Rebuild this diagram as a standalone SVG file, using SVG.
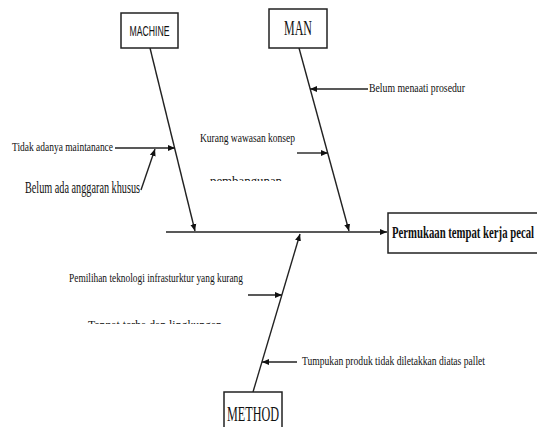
<svg xmlns="http://www.w3.org/2000/svg" width="537" height="427" viewBox="0 0 537 427">
<style>
.box{fill:#fff;stroke:#222;stroke-width:1.5}
.ln{stroke:#222;stroke-width:1.4;fill:none}
.t{font-family:"Liberation Serif",serif;fill:#111}
</style>
<defs>
<marker id="ah" markerWidth="8" markerHeight="8" refX="7" refY="4" orient="auto" markerUnits="userSpaceOnUse">
<path d="M0,1 L7,4 L0,7 Z" fill="#111"/>
</marker>
<clipPath id="c1"><rect x="200" y="176" width="100" height="5"/></clipPath>
<clipPath id="c2"><rect x="80" y="318" width="160" height="6"/></clipPath>
</defs>
<rect width="537" height="427" fill="#fff"/>
<g id="connectors">
<line class="ln" x1="166" y1="232" x2="387" y2="232" marker-end="url(#ah)"/>
<line class="ln" x1="150" y1="48" x2="195" y2="231" marker-end="url(#ah)"/>
<line class="ln" x1="299" y1="48" x2="349" y2="231" marker-end="url(#ah)"/>
<line class="ln" x1="253" y1="392" x2="300" y2="234" marker-end="url(#ah)"/>
<line class="ln" x1="115" y1="148" x2="175" y2="148" marker-end="url(#ah)"/>
<line class="ln" x1="141" y1="190" x2="155" y2="149" marker-end="url(#ah)"/>
<line class="ln" x1="297" y1="153" x2="328" y2="153" marker-end="url(#ah)"/>
<line class="ln" x1="368" y1="89" x2="310" y2="89" marker-end="url(#ah)"/>
<line class="ln" x1="248" y1="295" x2="282" y2="295" marker-end="url(#ah)"/>
<line class="ln" x1="297" y1="362" x2="262" y2="362" marker-end="url(#ah)"/>
</g>
<g id="machine">
<rect class="box" x="121" y="13" width="57" height="35"/>
<text x="149.5" y="36" text-anchor="middle" font-family="'Liberation Sans Narrow','Liberation Sans',sans-serif" font-size="14" textLength="40" lengthAdjust="spacingAndGlyphs" fill="#111">MACHINE</text>
</g>
<g id="man">
<rect class="box" x="269" y="9" width="58" height="39"/>
<text class="t" x="298" y="35" text-anchor="middle" font-size="20" textLength="28" lengthAdjust="spacingAndGlyphs">MAN</text>
</g>
<g id="method">
<rect class="box" x="224" y="392" width="58" height="40"/>
<text class="t" x="253" y="421" text-anchor="middle" font-size="21" textLength="52" lengthAdjust="spacingAndGlyphs">METHOD</text>
</g>
<g id="effect">
<rect class="box" x="388" y="213" width="160" height="40"/>
<text class="t" x="392" y="238" font-size="16" font-weight="bold" textLength="142" lengthAdjust="spacingAndGlyphs">Permukaan tempat kerja pecal</text>
</g>
<g id="labels">
<text class="t" x="12" y="151" font-size="13.5" textLength="101" lengthAdjust="spacingAndGlyphs">Tidak adanya maintanance</text>
<text class="t" x="25" y="193" font-size="17" textLength="115" lengthAdjust="spacingAndGlyphs" fill="#666">Belum ada anggaran khusus</text>
<text class="t" x="200" y="142" font-size="13.5" textLength="95" lengthAdjust="spacingAndGlyphs">Kurang wawasan konsep</text>
<text class="t" x="210" y="185" font-size="13.5" textLength="72" lengthAdjust="spacingAndGlyphs" clip-path="url(#c1)" fill="#555">pembangunan</text>
<text class="t" x="88" y="329" font-size="13.5" textLength="134" lengthAdjust="spacingAndGlyphs" clip-path="url(#c2)">Tenpat terba dan lingkungan</text>
<text class="t" x="369" y="92" font-size="13.5" textLength="96" lengthAdjust="spacingAndGlyphs">Belum menaati prosedur</text>
<text class="t" x="69" y="282" font-size="13.5" textLength="174" lengthAdjust="spacingAndGlyphs">Pemilihan teknologi infrasturktur yang kurang</text>
<text class="t" x="302" y="365" font-size="13.5" textLength="183" lengthAdjust="spacingAndGlyphs">Tumpukan produk tidak diletakkan diatas pallet</text>
</g>
</svg>
